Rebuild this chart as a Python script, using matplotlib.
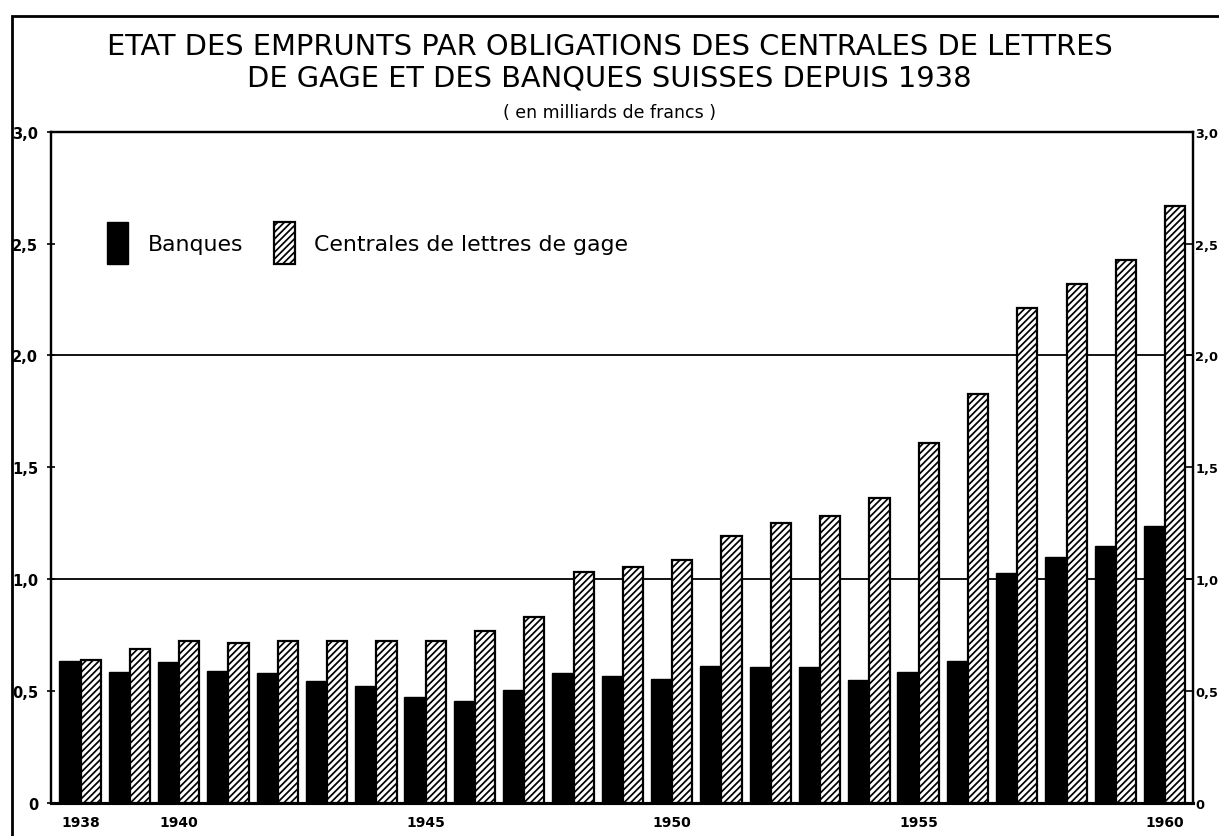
import matplotlib
matplotlib.use("Agg")
import matplotlib.pyplot as plt
from matplotlib.patches import Rectangle
import numpy as np

# values in milliards de francs
years = list(range(1938, 1961))
banques = [0.635, 0.586, 0.632, 0.59, 0.583, 0.545, 0.524, 0.472, 0.454, 0.504,
           0.583, 0.568, 0.554, 0.613, 0.606, 0.606, 0.55, 0.586, 0.635,
           1.03, 1.10, 1.15, 1.24]
centrales = [0.64, 0.688, 0.722, 0.714, 0.722, 0.722, 0.723, 0.722, 0.768, 0.832,
             1.033, 1.054, 1.086, 1.193, 1.253, 1.283, 1.365, 1.61, 1.83,
             2.21, 2.32, 2.425, 2.67]
year_ticks = [1938, 1940, 1945, 1950, 1955, 1960]
y_ticks = [0, 0.5, 1.0, 1.5, 2.0, 2.5, 3.0]
y_labels = ["0", "0,5", "1,0", "1,5", "2,0", "2,5", "3,0"]

plt.rcParams['font.family'] = ['DejaVu Sans']
plt.rcParams['hatch.linewidth'] = 1.25

W, H = 1219, 837
fig = plt.figure(figsize=(W / 100, H / 100), dpi=100)
ax = fig.add_axes([50.5 / W, 33 / H, (1192.7 - 50.5) / W, (804 - 132.7) / H])

x = np.arange(len(years))
b1 = ax.bar(x, banques, width=-0.43, align='edge', color='black',
            edgecolor='black', linewidth=1.0, zorder=3)
b2 = ax.bar(x, centrales, width=0.41, align='edge', color='white',
            edgecolor='black', hatch='/////', linewidth=1.6, zorder=3)

ax.set_xlim(-0.61, len(years) - 1 + 0.56)
ax.set_ylim(0, 3.0)

# only 1,0 and 2,0 get a line across
for v in [1.0, 2.0]:
    ax.axhline(v, color='black', lw=1.3, zorder=1)

ax.set_yticks(y_ticks)
ax.set_yticklabels(y_labels, fontweight='bold')
ax.tick_params(axis='y', direction='inout', length=6, width=1.2,
               labelsize=10.5, pad=6)
ax.set_xticks([years.index(y) for y in year_ticks])
ax.set_xticklabels([str(y) for y in year_ticks], fontweight='bold')
ax.tick_params(axis='x', length=0, labelsize=10, pad=9)

# right-hand scale, same values (squeezed against the page edge)
ax2 = ax.twinx()
ax2.set_ylim(ax.get_ylim())
ax2.set_yticks(y_ticks)
ax2.set_yticklabels(y_labels, fontweight='bold')
ax2.tick_params(axis='y', direction='in', length=5, width=1.2,
                labelsize=9.3, pad=2)

for a in (ax, ax2):
    for s in a.spines.values():
        s.set_linewidth(1.6)
    a.spines['bottom'].set_linewidth(2.2)

ax.legend(handles=[b1, b2], labels=["Banques", "Centrales de lettres de gage"],
          loc='upper left', bbox_to_anchor=(0.0495, 0.866), ncol=2,
          frameon=False, fontsize=15.8, handlelength=0.95, handleheight=2.6,
          handletextpad=0.9, columnspacing=1.4, borderpad=0, borderaxespad=0)

fig.text(0.5, 1 - 47 / H, "ETAT DES EMPRUNTS PAR OBLIGATIONS DES CENTRALES DE LETTRES",
         ha='center', va='center', fontsize=20.8)
fig.text(0.5, 1 - 78 / H, "DE GAGE ET DES BANQUES SUISSES DEPUIS 1938",
         ha='center', va='center', fontsize=20.8)
fig.text(0.5, 1 - 113 / H, "( en milliards de francs )",
         ha='center', va='center', fontsize=12.5)

# page frame of the scan
fig.add_artist(Rectangle((12 / W, -0.1), 1.2, 1.1 - 17 / H,
                         transform=fig.transFigure, fill=False,
                         edgecolor='black', linewidth=2.0))

fig.savefig("out.png", dpi=100)
